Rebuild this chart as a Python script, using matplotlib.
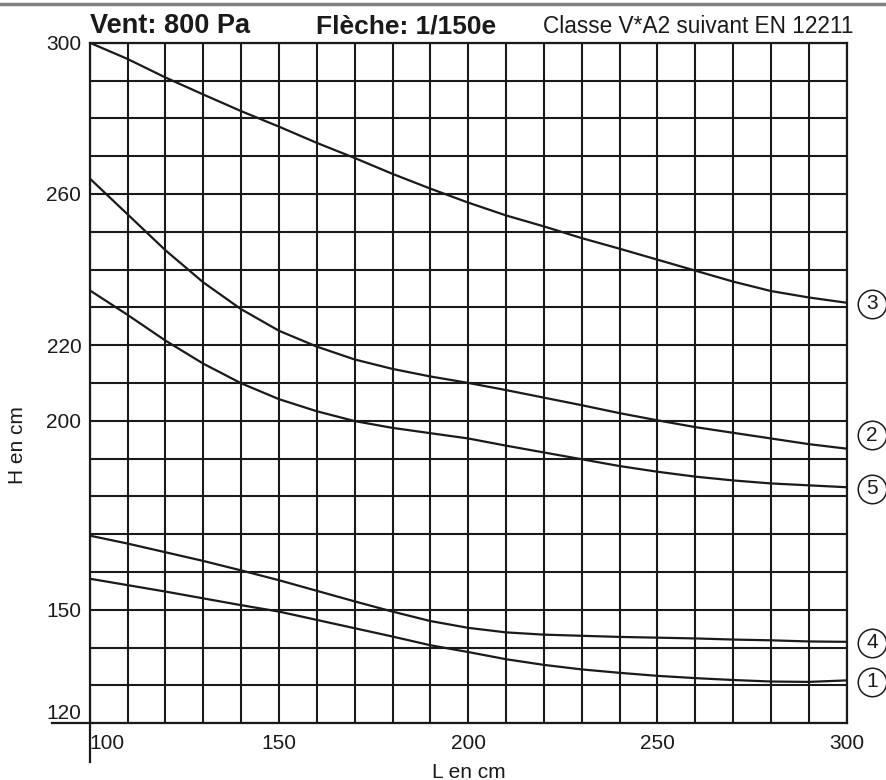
import numpy as np
import matplotlib
matplotlib.use("Agg")
import matplotlib.pyplot as plt
from matplotlib import font_manager
from matplotlib.lines import Line2D

# largeur L (cm) et hauteur admissible H (cm) par courbe
L_CM = [100, 110, 120, 130, 140, 150, 160, 170, 180, 190, 200,
        210, 220, 230, 240, 250, 260, 270, 280, 290, 300]
H_3 = [300.0, 295.7, 290.8, 286.3, 281.9, 277.8, 273.5, 269.5, 265.3, 261.4, 257.7,
       254.3, 251.4, 248.3, 245.5, 242.6, 239.7, 236.8, 234.3, 232.6, 231.2]
H_2 = [264.1, 254.6, 245.1, 236.6, 229.5, 223.8, 219.6, 216.2, 213.7, 211.7, 210.0,
       208.1, 206.1, 204.1, 202.0, 200.1, 198.3, 196.8, 195.3, 193.8, 192.6]
H_5 = [234.5, 228.0, 221.2, 215.1, 209.9, 205.7, 202.5, 199.9, 198.1, 196.7, 195.3,
       193.4, 191.6, 189.8, 188.0, 186.5, 185.2, 184.2, 183.4, 182.9, 182.4]
H_4 = [169.6, 167.5, 165.2, 162.9, 160.4, 157.8, 155.0, 152.2, 149.5, 147.0, 145.2,
       144.0, 143.4, 143.1, 142.8, 142.6, 142.4, 142.1, 141.9, 141.6, 141.5]
H_1 = [158.2, 156.5, 154.8, 153.0, 151.2, 149.5, 147.3, 145.1, 142.9, 140.6, 138.8,
       136.9, 135.4, 134.2, 133.3, 132.5, 131.9, 131.4, 131.0, 130.9, 131.3]
CURVE_IDS = ["3", "2", "5", "4", "1"]

X_TICKS = [100, 150, 200, 250, 300]
Y_TICKS = [120, 150, 200, 220, 260, 300]

names = {f.name for f in font_manager.fontManager.ttflist}
BASE = "Liberation Sans" if "Liberation Sans" in names else "DejaVu Sans"
plt.rcParams["font.family"] = BASE

INK = "#1a1a1a"
W, H = 887, 780

fig = plt.figure(figsize=(W / 100, H / 100), dpi=100)
ax = fig.add_axes([89.7 / W, 1 - 723.1 / H, 757 / W, 680.4 / H])

for h in [H_3, H_2, H_5, H_4, H_1]:
    ax.plot(L_CM, h, color=INK, linewidth=1.6, zorder=3)

ax.set_xlim(100, 300)
ax.set_ylim(120, 300)
ax.set_xticks(X_TICKS)
ax.set_yticks(Y_TICKS)
ax.set_xticks(np.arange(100, 301, 10), minor=True)
ax.set_yticks(np.arange(120, 301, 10), minor=True)
ax.grid(which="both", color=INK, linewidth=1.5)
ax.tick_params(which="both", length=0, labelsize=15, colors=INK)
ax.tick_params(axis="x", pad=8)
ax.tick_params(axis="y", pad=6)
for s in ax.spines.values():
    s.set_color(INK)
    s.set_linewidth(1.6)

# "100" colle a l'axe, "120" au-dessus de la ligne
ax.get_xticklabels()[0].set_horizontalalignment("left")
ax.get_yticklabels()[0].set_verticalalignment("bottom")

# prolongement des axes en croix
ax.plot([-0.05, 0], [0, 0], color=INK, lw=1.6, transform=ax.transAxes, clip_on=False)
ax.plot([0, 0], [0, -0.057], color=INK, lw=1.6, transform=ax.transAxes, clip_on=False)

# reperes cercles en bout de courbe
label_y = [230.9, 196.2, 182.0, 141.2, 131.0]
for cid, ly in zip(CURVE_IDS, label_y):
    ax.plot(306.7, ly, marker="o", ms=20.5, mfc="white", mec=INK, mew=1.1,
            clip_on=False, zorder=5)
    ax.text(306.7, ly, cid, ha="center", va="center", fontsize=15,
            color=INK, zorder=6, clip_on=False)

fig.text(90 / W, 1 - 33 / H, "Vent: 800 Pa", fontsize=19.5, fontweight="bold",
         color=INK, va="baseline")
fig.text(316 / W, 1 - 33 / H, "Flèche: 1/150e", fontsize=19, fontweight="bold",
         color=INK, va="baseline")
fig.text(543 / W, 1 - 33 / H, "Classe V*A2 suivant EN 12211", fontsize=16.3,
         color=INK, va="baseline")

fig.text(469 / W, 1 - 772 / H, "L en cm", fontsize=15, ha="center", va="center", color=INK)
fig.text(18 / W, 1 - 445 / H, "H en cm", fontsize=15, ha="center", va="center",
         rotation=90, color=INK)

fig.add_artist(Line2D([0, 1], [1 - 4 / H, 1 - 4 / H], color="#808080", lw=2.5))

fig.savefig("out.png", dpi=100)
plt.close()
